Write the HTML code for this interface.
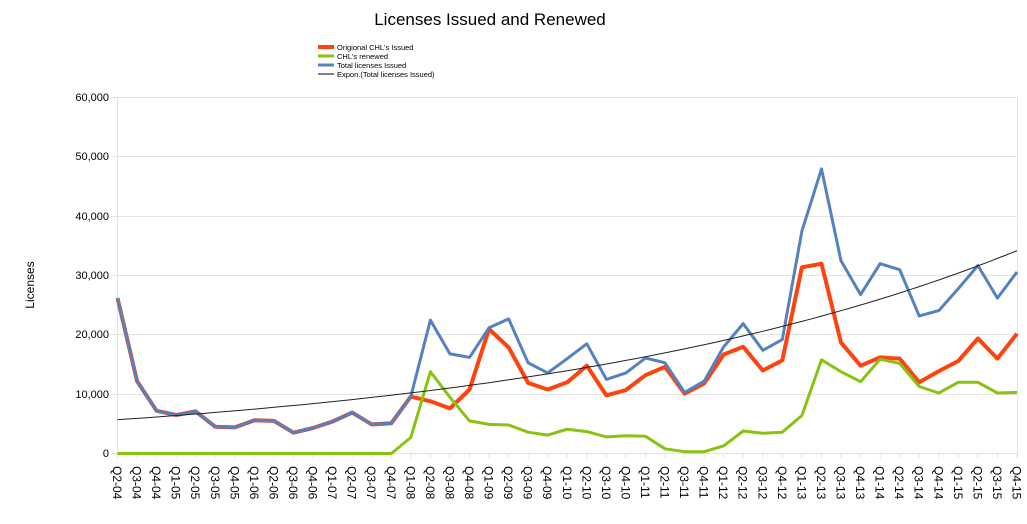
<!DOCTYPE html>
<html><head><meta charset="utf-8"><style>
html,body{margin:0;padding:0;background:#fff;}
svg{display:block;font-family:"Liberation Sans",sans-serif;}
</style></head><body>
<svg id="c" width="1027" height="524" viewBox="0 0 1027 524">
<text x="490" y="25" font-size="17" text-anchor="middle" fill="#000">Licenses Issued and Renewed</text>
<line x1="318" y1="47" x2="334" y2="47" stroke="#ff420e" stroke-width="4"/>
<line x1="318" y1="56" x2="334" y2="56" stroke="#87c310" stroke-width="3"/>
<line x1="318" y1="65" x2="334" y2="65" stroke="#5582be" stroke-width="3"/>
<line x1="318" y1="74" x2="334" y2="74" stroke="#000" stroke-width="1"/>
<g font-size="7.5" fill="#000">
<text x="337" y="50">Origional CHL's Issued</text>
<text x="337" y="59">CHL's renewed</text>
<text x="337" y="68">Total licenses Issued</text>
<text x="337" y="77">Expon.(Total licenses Issued)</text>
</g>
<g stroke="#e3e3e3" stroke-width="1">
<line x1="111" y1="97.5" x2="1017" y2="97.5"/>
<line x1="111" y1="156.5" x2="1017" y2="156.5"/>
<line x1="111" y1="216.5" x2="1017" y2="216.5"/>
<line x1="111" y1="275.5" x2="1017" y2="275.5"/>
<line x1="111" y1="334.5" x2="1017" y2="334.5"/>
<line x1="111" y1="394.5" x2="1017" y2="394.5"/>
<line x1="111" y1="453.5" x2="1017" y2="453.5"/>
<line x1="117.5" y1="97" x2="117.5" y2="458"/>
<line x1="1017.5" y1="97" x2="1017.5" y2="458"/>
</g>
<g font-size="11" fill="#000" text-anchor="end">
<text x="109" y="101">60,000</text>
<text x="109" y="160">50,000</text>
<text x="109" y="220">40,000</text>
<text x="109" y="279">30,000</text>
<text x="109" y="338">20,000</text>
<text x="109" y="398">10,000</text>
<text x="109" y="457">0</text>
</g>
<text transform="translate(34,285) rotate(-90)" font-size="12" text-anchor="middle">Licenses</text>
<g id="ticks" stroke="#e3e3e3"></g>
<polyline id="pt" fill="none" stroke="#5582be" stroke-width="3.5" stroke-linejoin="round"/>
<polyline id="po" fill="none" stroke="#ff420e" stroke-width="4" stroke-linejoin="round"/>
<polyline id="pt2" fill="none" stroke="#5582be" stroke-width="3" stroke-linejoin="round"/>
<polyline id="pg" fill="none" stroke="#87c310" stroke-width="3" stroke-linejoin="round"/>
<polyline id="pe" fill="none" stroke="#222" stroke-width="1"/>
<g id="lab" font-size="12" fill="#000">
<text>Q2-04</text><text>Q3-04</text><text>Q4-04</text><text>Q1-05</text><text>Q2-05</text><text>Q3-05</text><text>Q4-05</text><text>Q1-06</text><text>Q2-06</text><text>Q3-06</text><text>Q4-06</text><text>Q1-07</text><text>Q2-07</text><text>Q3-07</text><text>Q4-07</text><text>Q1-08</text><text>Q2-08</text><text>Q3-08</text><text>Q4-08</text><text>Q1-09</text><text>Q2-09</text><text>Q3-09</text><text>Q4-09</text><text>Q1-10</text><text>Q2-10</text><text>Q3-10</text><text>Q4-10</text><text>Q1-11</text><text>Q2-11</text><text>Q3-11</text><text>Q4-11</text><text>Q1-12</text><text>Q2-12</text><text>Q3-12</text><text>Q4-12</text><text>Q1-13</text><text>Q2-13</text><text>Q3-13</text><text>Q4-13</text><text>Q1-14</text><text>Q2-14</text><text>Q3-14</text><text>Q4-14</text><text>Q1-15</text><text>Q2-15</text><text>Q3-15</text><text>Q4-15</text>
</g>
</svg>
<script>
var T=[26.2,12.2,7.2,6.5,7.1,4.5,4.4,5.6,5.5,3.5,4.3,5.4,6.9,4.9,5.1,9.6,22.5,16.8,16.2,21.2,22.7,15.3,13.6,16,18.5,12.5,13.6,16.1,15.3,10.3,12.2,18,21.9,17.4,19.2,37.5,48,32.5,26.8,32,31,23.2,24.1,27.8,31.7,26.2,30.6];
var O=T.slice(0,15).concat([9.6,8.8,7.6,10.8,21,17.9,11.9,10.8,12,14.8,9.8,10.7,13.2,14.6,10.1,11.8,16.7,18,14,15.7,31.4,32,18.7,14.8,16.2,16,12,13.9,15.6,19.4,16,20.2]);
var G=[0,0,0,0,0,0,0,0,0,0,0,0,0,0,0,2.7,13.8,9.5,5.5,4.9,4.8,3.6,3.1,4.1,3.7,2.8,3.0,2.9,0.8,0.3,0.3,1.3,3.8,3.4,3.6,6.4,15.8,13.8,12.1,15.9,15.2,11.3,10.2,12,12,10.2,10.3];
function X(i){return 117.5+i*(899.5/46);}
function Y(v){return 453.5-v*5.93;}
function pts(a){return a.map(function(v,i){return X(i).toFixed(1)+","+Y(v).toFixed(1);}).join(" ");}
document.getElementById("po").setAttribute("points",pts(O));
document.getElementById("pt").setAttribute("points",pts(T.slice(0,16)));
document.getElementById("pt2").setAttribute("points",pts(T));
document.getElementById("pg").setAttribute("points",pts(G));
var e=[],b=Math.log(34.2/5.7)/46;
for(var i=0;i<=92;i++){var t=i/2;e.push(X(t).toFixed(1)+","+Y(5.7*Math.exp(b*t)).toFixed(1));}
document.getElementById("pe").setAttribute("points",e.join(" "));
var tk=document.getElementById("ticks"),ns="http://www.w3.org/2000/svg";
var L=document.getElementById("lab").children;
for(var i=0;i<47;i++){var l=document.createElementNS(ns,"line");var x=X(i);
l.setAttribute("x1",x);l.setAttribute("x2",x);l.setAttribute("y1",453);l.setAttribute("y2",458);tk.appendChild(l);
L[i].setAttribute("transform","translate("+(x-4.5)+",466) rotate(90)");}
</script>
</body></html>
